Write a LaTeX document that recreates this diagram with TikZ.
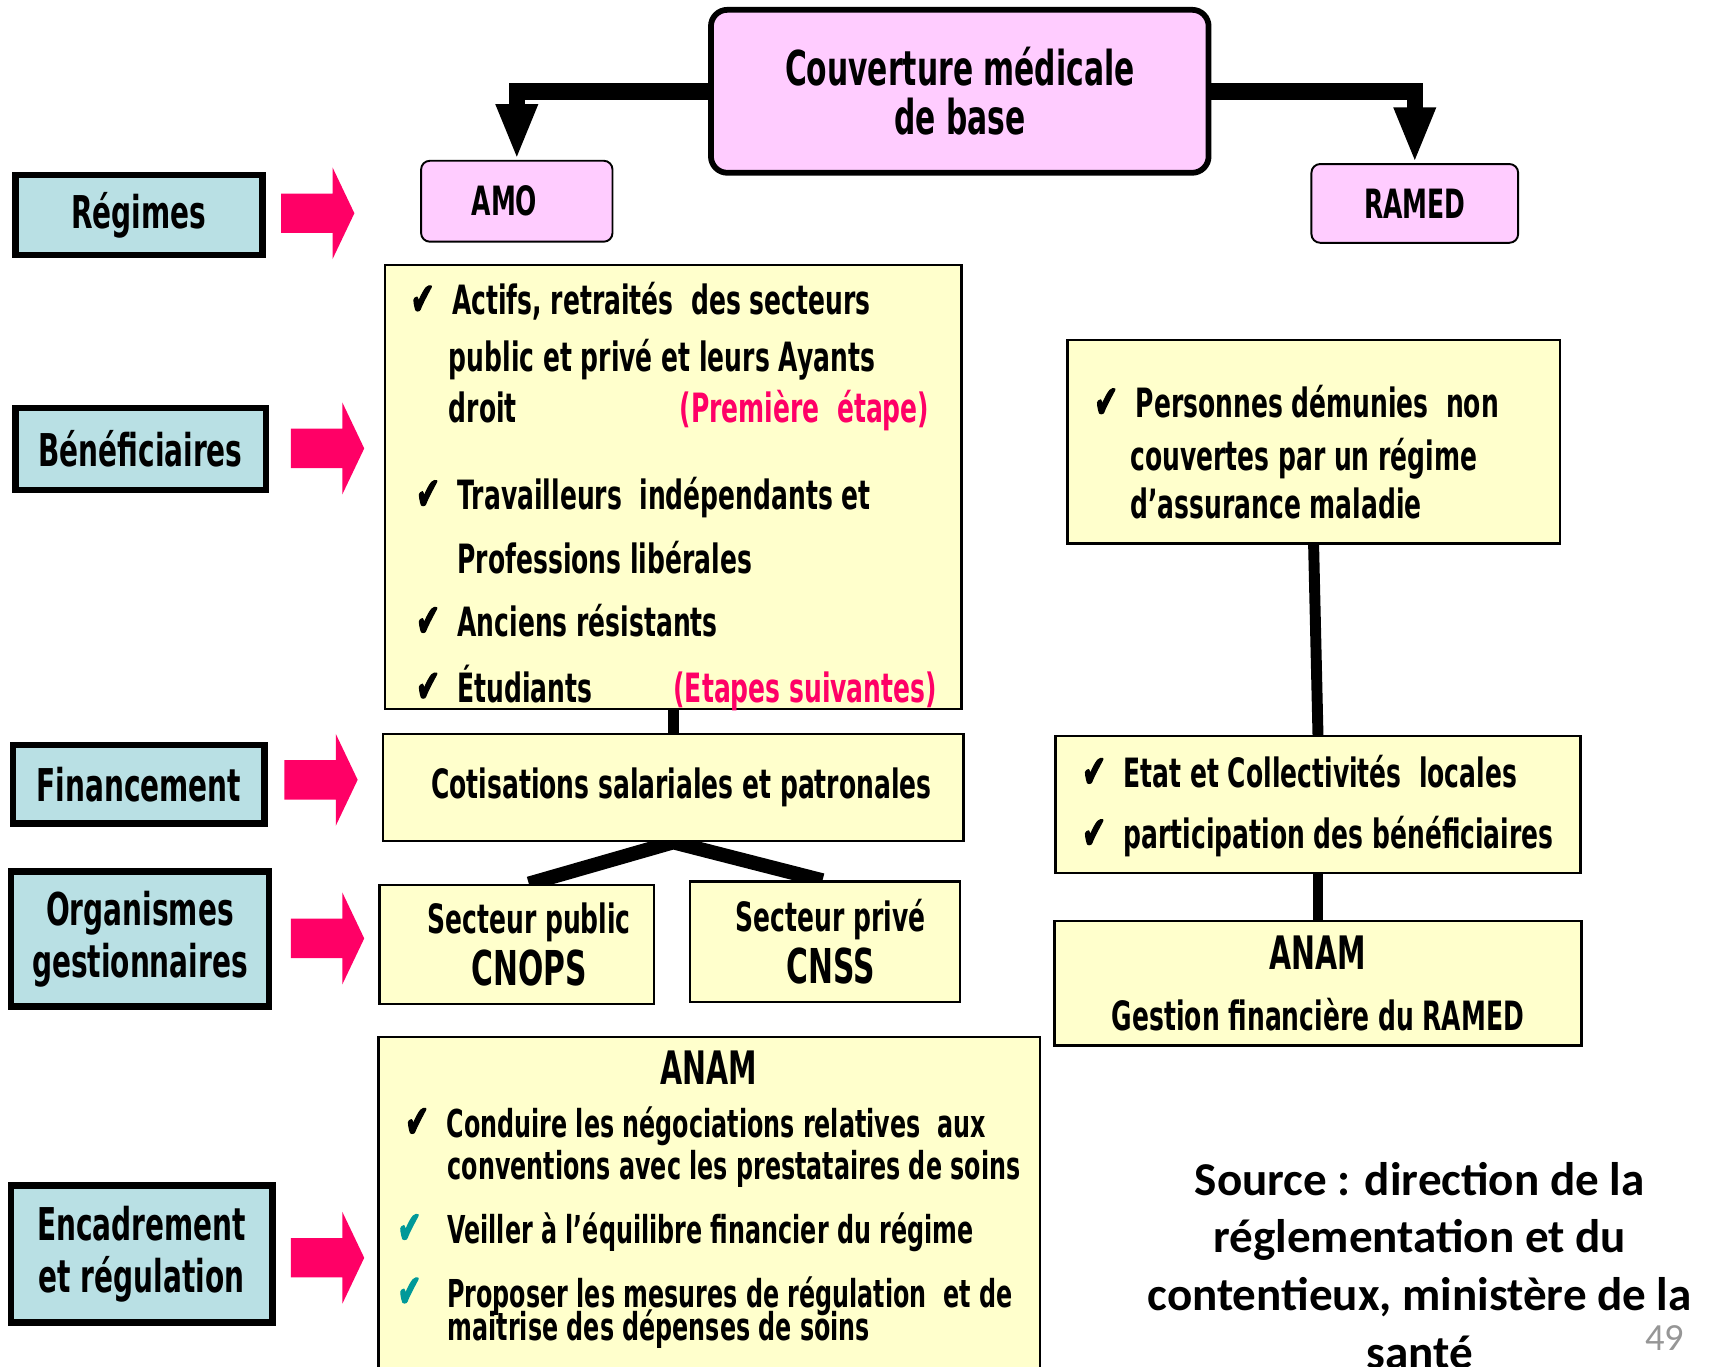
\documentclass[tikz,border=0pt]{standalone}
\usepackage{fontspec}
\setmainfont{DejaVu Sans}[FakeStretch=0.62]
\newfontfamily\chkfont{DejaVu Sans}[FakeStretch=0.62, FakeBold=2.5]
\newfontfamily\srcfont{Carlito}
\usetikzlibrary{arrows.meta, positioning, backgrounds}
\definecolor{mypink}{RGB}{255,0,102}
\definecolor{myteal}{RGB}{0,153,153}
\definecolor{mygray}{RGB}{150,150,150}
\definecolor{hdrpink}{RGB}{255,204,255}
\definecolor{hdrblue}{RGB}{185,224,228}
\definecolor{hdryellow}{RGB}{255,255,204}
\newcommand{\bodyfont}{\fontsize{21}{25}\selectfont\bfseries}
\newcommand{\smallbody}{\fontsize{20}{24}\selectfont\bfseries}
\newcommand{\headfont}{\fontsize{24}{30}\selectfont\bfseries}
\newcommand{\ck}[1][black]{\llap{{\chkfont\mdseries\fontsize{24}{24}\selectfont\color{#1}✔}\hspace{0.32cm}}}
\tikzset{
  topbox/.style={rectangle, draw=black, fill=hdrpink, rounded corners=0.3cm,
    line width=3pt, align=center, font=\fontsize{25}{25.6}\selectfont\bfseries},
  regbox/.style={rectangle, draw=black, fill=hdrpink, rounded corners=0.16cm,
    line width=1pt, font=\bodyfont},
  sidebox/.style={rectangle, draw=black, fill=hdrblue, line width=3.4pt,
    align=center, font=\fontsize{23.5}{27}\selectfont\bfseries},
  notebox/.style={rectangle, draw=black, fill=hdryellow, line width=1.2pt},
  txt/.style={anchor=base west, inner sep=0pt, font=\bodyfont},
  redtxt/.style={anchor=base east, inner sep=0pt, text=mypink, font=\bodyfont},
  link/.style={line width=0.2cm, color=black},
  fork/.style={line width=0.26cm, color=black, line join=miter},
  bigarrow/.style={line width=0.3cm, color=black, -{Triangle[length=1.02cm, width=0.7cm]}},
  pics/pinkarrow/.style={code={
    \fill[mypink] (0,-0.36) -- (0.94,-0.36) -- (0.94,-0.84) -- (1.34,0)
      -- (0.94,0.84) -- (0.94,0.36) -- (0,0.36) -- cycle;}}
}
\begin{document}
\begin{tikzpicture}
  \useasboundingbox (0,0) rectangle (31.36,24.98);
  \clip (0,0) rectangle (31.36,24.98);

  % Couverture medicale de base
  \node[topbox, minimum width=9.1cm, minimum height=2.98cm] (title) at (17.55,23.31) {Couverture médicale\\de base};
  \node[regbox, minimum width=3.5cm, minimum height=1.48cm] (amo) at (9.45,21.30) {AMO\hspace*{0.45cm}};
  \node[regbox, minimum width=3.78cm, minimum height=1.44cm] (ramed) at (25.87,21.26) {RAMED};

  % Left labels
  \node[sidebox, minimum width=4.52cm, minimum height=1.46cm] (regimes) at (2.54,21.05) {Régimes};
  \node[sidebox, minimum width=4.58cm, minimum height=1.50cm] (benef) at (2.57,16.77) {Bénéficiaires};
  \node[sidebox, minimum width=4.60cm, minimum height=1.44cm] (financ) at (2.54,10.64) {Financement};
  \node[sidebox, minimum width=4.72cm, minimum height=2.46cm] (organ) at (2.56,7.81) {Organismes\\gestionnaires};
  \node[sidebox, minimum width=4.78cm, minimum height=2.50cm] (encad) at (2.59,2.05) {Encadrement\\et régulation};

  % Pink arrows
  \pic at (5.14,21.08) {pinkarrow};
  \pic at (5.32,16.78) {pinkarrow};
  \pic at (5.20,10.72) {pinkarrow};
  \pic at (5.32,7.82) {pinkarrow};
  \pic at (5.32,1.98) {pinkarrow};

  % AMO beneficiaires
  \node[notebox, minimum width=10.54cm, minimum height=8.12cm] (benamo) at (12.31,16.08) {};
  \node[txt] (ben1) at (8.26,19.22) {\ck Actifs, retraités\ \ des secteurs};
  \node[txt] (ben2) at (8.20,18.18) {public et privé et leurs Ayants};
  \node[txt] (ben3) at (8.20,17.26) {droit};
  \node[redtxt] (ben3r) at (17.00,17.26) {(Première\ \ étape)};
  \node[txt] (ben4) at (8.36,15.66) {\ck Travailleurs\ \ indépendants et};
  \node[txt] (ben5) at (8.36,14.50) {Professions libérales};
  \node[txt] (ben6) at (8.36,13.34) {\ck Anciens résistants};
  \node[txt] (ben7) at (8.36,12.14) {\ck Étudiants};
  \node[redtxt] (ben7r) at (17.14,12.14) {(Etapes suivantes)};

  % AMO financement and organismes
  \node[notebox, minimum width=10.62cm, minimum height=1.96cm, font=\bodyfont] (cotis) at (12.31,10.58) {\hspace*{0.3cm}Cotisations salariales et patronales};
  \node[notebox, minimum width=5.02cm, minimum height=2.18cm, align=center, font=\fontsize{21}{27}\selectfont\bfseries] (public) at (9.45,7.71) {\hspace*{0.45cm}Secteur public\\\hspace*{0.45cm}{\fontsize{25}{27}\selectfont CNOPS}};
  \node[notebox, minimum width=4.94cm, minimum height=2.20cm, align=center, font=\fontsize{21}{27}\selectfont\bfseries] (prive) at (15.09,7.76) {\hspace*{0.2cm}Secteur privé\\\hspace*{0.2cm}{\fontsize{25}{27}\selectfont CNSS}};

  % ANAM (AMO)
  \node[notebox, minimum width=12.1cm, minimum height=6.6cm] (anam) at (12.97,2.72) {};
  \node[txt, anchor=base, font=\headfont] (anam0) at (12.96,5.14) {ANAM};
  \node[txt, font=\smallbody] (anam1) at (8.16,4.18) {\ck Conduire les négociations relatives\ \ aux};
  \node[txt, font=\smallbody] (anam2) at (8.18,3.42) {conventions avec les prestataires de soins};
  \node[txt, font=\smallbody] (anam3) at (8.02,2.24) {\ck[myteal] Veiller à l’équilibre financier du régime};
  \node[txt, font=\smallbody] (anam4) at (8.02,1.08) {\ck[myteal] Proposer les mesures de régulation\ \ et de};
  \node[txt, font=\smallbody] (anam5) at (8.18,0.47) {maitrise des dépenses de soins};

  % RAMED side
  \node[notebox, minimum width=9.0cm, minimum height=3.72cm] (rben) at (24.02,16.90) {};
  \node[txt] (ram1) at (20.76,17.34) {\ck Personnes démunies\ \ non};
  \node[txt] (ram2) at (20.66,16.38) {couvertes par un régime};
  \node[txt] (ram3) at (20.66,15.50) {d’assurance maladie};
  \node[notebox, minimum width=9.6cm, minimum height=2.5cm] (etat) at (24.10,10.27) {};
  \node[txt] (etat1) at (20.54,10.58) {\ck Etat et Collectivités\ \ locales};
  \node[txt] (etat2) at (20.54,9.46) {\ck participation des bénéficiaires};
  \node[notebox, minimum width=9.64cm, minimum height=2.28cm, align=center, font=\fontsize{21}{32}\selectfont\bfseries] (anamr) at (24.10,7.00) {{\fontsize{24}{32}\selectfont ANAM}\\Gestion financière du RAMED};

  % Source
  \node[anchor=north, align=center, inner sep=0pt, font=\srcfont\bfseries\fontsize{24.5}{30}\selectfont] (src) at (25.96,3.74) {Source : direction de la\\réglementation et du\\contentieux, ministère de la\\santé};
  \node[font=\srcfont\fontsize{20}{24}\selectfont, text=mygray] (page) at (30.44,0.52) {49};

  % Connectors
  \begin{scope}[on background layer]
    \draw[bigarrow] (title.west) -| (amo.north);
    \draw[bigarrow] (title.east) -| (ramed.north);
    \draw[link] (benamo.south) -- (cotis.north);
    \draw[fork] ([xshift=0.22cm]public.north) -- (cotis.south) -- ([xshift=-0.05cm]prive.north);
    \draw[link] (rben.south) -- (etat.north);
    \draw[link] (etat.south) -- (anamr.north);
  \end{scope}
\end{tikzpicture}
\end{document}
